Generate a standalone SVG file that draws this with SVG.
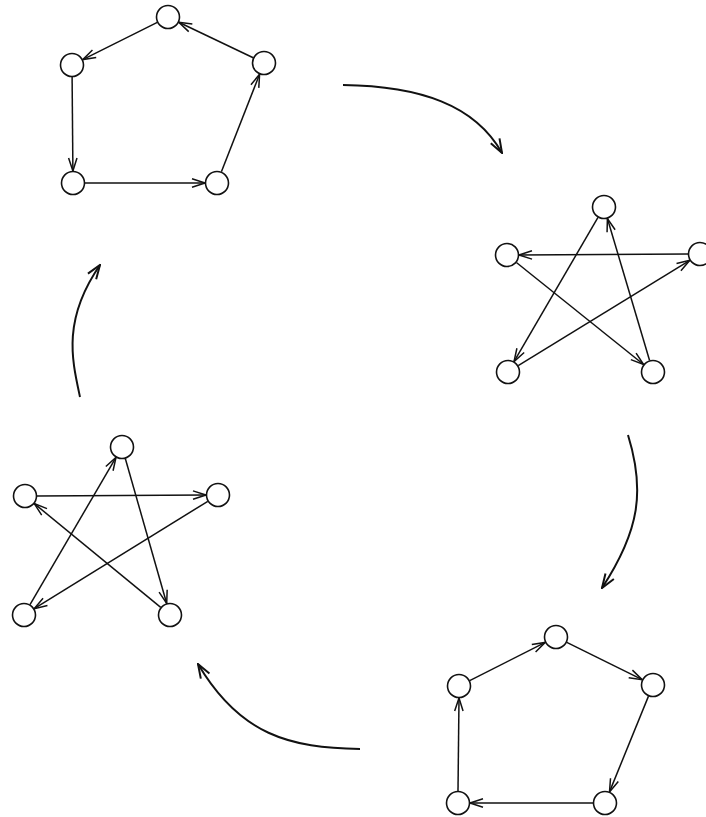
<svg xmlns="http://www.w3.org/2000/svg" width="706" height="817" viewBox="0 0 706 817">
<style>
.node{fill:#fff;stroke:#111;stroke-width:1.6}
.edge{fill:none;stroke:#111;stroke-width:1.5}
.flow{fill:none;stroke:#111;stroke-width:2}
</style>
<defs>
<marker id="ah" viewBox="-14 -7 15 14" refX="0" refY="0" markerWidth="15" markerHeight="14" markerUnits="userSpaceOnUse" orient="auto">
<path d="M-13,-4.2 L0,0 L-13,4.2" fill="none" stroke="#111" stroke-width="1.5"/>
</marker>
<marker id="ahb" viewBox="-16 -8 17 16" refX="0" refY="0" markerWidth="17" markerHeight="16" markerUnits="userSpaceOnUse" orient="auto">
<path d="M-14,-5 L0,0 L-14,5" fill="none" stroke="#111" stroke-width="2"/>
</marker>
</defs>
<rect width="706" height="817" fill="#fff"/>
<g id="connectors">
<!-- pentagon 1 -->
<line class="edge" x1="157.3" y1="22.4" x2="82.7" y2="59.6" marker-end="url(#ah)"/>
<line class="edge" x1="72.1" y1="77" x2="72.9" y2="171" marker-end="url(#ah)"/>
<line class="edge" x1="85" y1="183" x2="205" y2="183" marker-end="url(#ah)"/>
<line class="edge" x1="221.4" y1="171.8" x2="259.6" y2="74.2" marker-end="url(#ah)"/>
<line class="edge" x1="253.2" y1="57.8" x2="178.8" y2="22.2" marker-end="url(#ah)"/>
<!-- star 1 -->
<line class="edge" x1="688" y1="254" x2="519" y2="255" marker-end="url(#ah)"/>
<line class="edge" x1="598" y1="217.4" x2="514" y2="361.6" marker-end="url(#ah)"/>
<line class="edge" x1="516.4" y1="262.5" x2="643.6" y2="364.5" marker-end="url(#ah)"/>
<line class="edge" x1="649.6" y1="360.5" x2="607.4" y2="218.5" marker-end="url(#ah)"/>
<line class="edge" x1="518.2" y1="365.7" x2="689.8" y2="260.3" marker-end="url(#ah)"/>
<!-- star 2 -->
<line class="edge" x1="37" y1="496" x2="206" y2="495" marker-end="url(#ah)"/>
<line class="edge" x1="125.3" y1="458.5" x2="166.7" y2="603.5" marker-end="url(#ah)"/>
<line class="edge" x1="160.7" y1="607.4" x2="34.3" y2="503.6" marker-end="url(#ah)"/>
<line class="edge" x1="207.8" y1="501.3" x2="34.2" y2="608.7" marker-end="url(#ah)"/>
<line class="edge" x1="30" y1="604.6" x2="116" y2="457.4" marker-end="url(#ah)"/>
<!-- pentagon 2 -->
<line class="edge" x1="469.7" y1="680.6" x2="545.3" y2="642.4" marker-end="url(#ah)"/>
<line class="edge" x1="566.8" y1="642.3" x2="642.2" y2="679.7" marker-end="url(#ah)"/>
<line class="edge" x1="648.5" y1="696.1" x2="609.5" y2="791.9" marker-end="url(#ah)"/>
<line class="edge" x1="593" y1="803" x2="470" y2="803" marker-end="url(#ah)"/>
<line class="edge" x1="458" y1="791" x2="459" y2="698" marker-end="url(#ah)"/>
<!-- transition arrows -->
<path class="flow" d="M343,85 C420,86 475,105 502,153" marker-end="url(#ahb)"/>
<path class="flow" d="M628,435 C645,490 640,530 602,588" marker-end="url(#ahb)"/>
<path class="flow" d="M360,749 C290,748 240,735 198,664" marker-end="url(#ahb)"/>
<path class="flow" d="M80,397 C72,360 62,320 100,265" marker-end="url(#ahb)"/>
</g>
<g id="pentagon1">
<circle id="p1-top" class="node" cx="168" cy="17" r="11.5"/>
<circle id="p1-left" class="node" cx="72" cy="65" r="11.5"/>
<circle id="p1-right" class="node" cx="264" cy="63" r="11.5"/>
<circle id="p1-bl" class="node" cx="73" cy="183" r="11.5"/>
<circle id="p1-br" class="node" cx="217" cy="183" r="11.5"/>
</g>
<g id="star1">
<circle id="s1-top" class="node" cx="604" cy="207" r="11.5"/>
<circle id="s1-left" class="node" cx="507" cy="255" r="11.5"/>
<circle id="s1-right" class="node" cx="700" cy="254" r="11.5"/>
<circle id="s1-bl" class="node" cx="508" cy="372" r="11.5"/>
<circle id="s1-br" class="node" cx="653" cy="372" r="11.5"/>
</g>
<g id="star2">
<circle id="s2-top" class="node" cx="122" cy="447" r="11.5"/>
<circle id="s2-left" class="node" cx="25" cy="496" r="11.5"/>
<circle id="s2-right" class="node" cx="218" cy="495" r="11.5"/>
<circle id="s2-bl" class="node" cx="24" cy="615" r="11.5"/>
<circle id="s2-br" class="node" cx="170" cy="615" r="11.5"/>
</g>
<g id="pentagon2">
<circle id="p2-top" class="node" cx="556" cy="637" r="11.5"/>
<circle id="p2-left" class="node" cx="459" cy="686" r="11.5"/>
<circle id="p2-right" class="node" cx="653" cy="685" r="11.5"/>
<circle id="p2-bl" class="node" cx="458" cy="803" r="11.5"/>
<circle id="p2-br" class="node" cx="605" cy="803" r="11.5"/>
</g>
</svg>
